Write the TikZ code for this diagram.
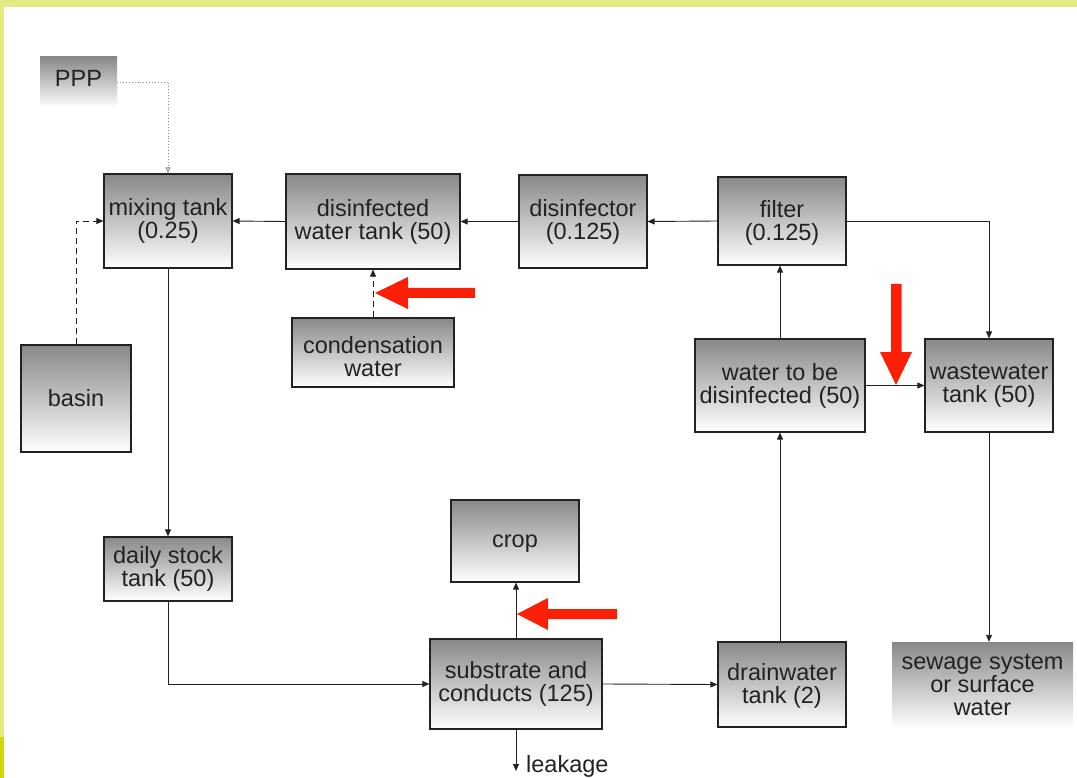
\documentclass[tikz,border=0pt]{standalone}
\usepackage{fontspec}
\setmainfont{Liberation Sans}
\usetikzlibrary{arrows.meta}
\definecolor{bandlight}{RGB}{228,235,130}
\definecolor{banddark}{RGB}{208,216,12}
\definecolor{redarrow}{RGB}{250,32,8}
\definecolor{boxtop}{RGB}{136,136,136}
\definecolor{inkgray}{RGB}{34,34,34}
\begin{document}
\begin{tikzpicture}[x=1pt,y=-1pt,
  box/.style={draw=inkgray, line width=1.2pt, top color=boxtop, bottom color=white,
    align=center, inner sep=0pt, text=inkgray,
    font=\fontsize{23.5}{23}\selectfont},
  fadebox/.style={top color=boxtop, bottom color=white, align=center, inner sep=0pt,
    text=inkgray, font=\fontsize{23.5}{23}\selectfont},
  flow/.style={draw=inkgray, line width=0.9pt, -{Triangle[length=7pt,width=6pt]}},
  dashflow/.style={flow, dash pattern=on 6pt off 4pt},
  dotflow/.style={draw=black!45, line width=0.9pt, dotted, -{Triangle[length=6pt,width=5pt,open]}},
  redfill/.style={fill=redarrow}
]
\useasboundingbox (0,0) rectangle (1077,778);
\fill[white] (0,0) rectangle (1077,778);
\fill[bandlight] (0,0) rectangle (1077,7);
\fill[bandlight] (0,0) rectangle (4,737);
\fill[banddark] (0,737) rectangle (4,778);

% nodes
\node[fadebox, minimum width=77pt, minimum height=50pt, text height=17pt, text depth=8.2pt] (ppp) at (78.5,82) {PPP};
\node[box, minimum width=128pt, minimum height=94pt] (mix) at (168,221) {mixing tank\\(0.25)};
\node[box, minimum width=174pt, minimum height=95pt] (dwt) at (373,221.5) {disinfected\\water tank (50)};
\node[box, minimum width=128pt, minimum height=93pt] (dis) at (583,221.5) {disinfector\\(0.125)};
\node[box, minimum width=128pt, minimum height=88pt] (filter) at (782,221) {\rule{0pt}{20pt}filter\\(0.125)};
\node[box, minimum width=110pt, minimum height=107pt] (basin) at (76,398.5) {basin};
\node[box, minimum width=162pt, minimum height=69pt] (cond) at (373,352.5) {\rule{0pt}{25pt}condensation\\water};
\node[box, minimum width=170pt, minimum height=93pt] (wtbd) at (780,385.5) {water to be\\disinfected (50)};
\node[box, minimum width=128pt, minimum height=93pt] (waste) at (989,385.5) {wastewater\\tank (50)};
\node[box, minimum width=128pt, minimum height=82pt] (crop) at (515,541) {\rule{0pt}{18pt}crop};
\node[box, minimum width=128pt, minimum height=64pt] (daily) at (168,569) {daily stock\\tank (50)};
\node[box, minimum width=172pt, minimum height=90pt] (sub) at (516,684) {substrate and\\conducts (125)};
\node[box, minimum width=128pt, minimum height=85pt] (drain) at (782,684.5) {\rule{0pt}{20pt}drainwater\\tank (2)};
\node[fadebox, minimum width=181pt, minimum height=86pt] (sewage) at (982.5,685) {sewage system\\or surface\\water};
\node[anchor=west, inner sep=0pt, text=inkgray, font=\fontsize{23.5}{23}\selectfont] (leak) at (526,766) {leakage};
\coordinate (leakend) at (516,771);

% connectors
\draw[dotflow] (ppp.east) -| (mix.north);
\draw[flow] (dwt.west) -- (mix.east);
\draw[flow] (dis.west) -- (dwt.east);
\draw[flow] (filter.west) -- (dis.east);
\draw[flow] (filter.east) -| (waste.north);
\draw[flow] (wtbd.north) -- (wtbd.north |- filter.south);
\draw[flow] (wtbd.east) -- (waste.west);
\draw[flow] (drain.north -| wtbd.south) -- (wtbd.south);
\draw[flow] (sub.east) -- (drain.west);
\draw[flow] (daily.south) |- (sub.west);
\draw[flow] (mix.south) -- (daily.north);
\draw[dashflow] (basin.north) |- (mix.west);
\draw[dashflow] (cond.north) -- (dwt.south);
\draw[flow] (sub.north) -- (sub.north |- crop.south);
\draw[flow] (waste.south) -- (waste.south |- sewage.north);
\draw[flow] (sub.south) -- (leakend);

% red arrows
\fill[redfill] (375,293) -- (408,277) -- (408,288) -- (475,288) -- (475,298) -- (408,298) -- (408,309) -- cycle;
\fill[redfill] (896,385) -- (880,352) -- (891,352) -- (891,284) -- (901.5,284) -- (901.5,352) -- (912,352) -- cycle;
\fill[redfill] (517,614) -- (548,598) -- (548,609) -- (617,609) -- (617,619) -- (548,619) -- (548,630) -- cycle;
\end{tikzpicture}
\end{document}
